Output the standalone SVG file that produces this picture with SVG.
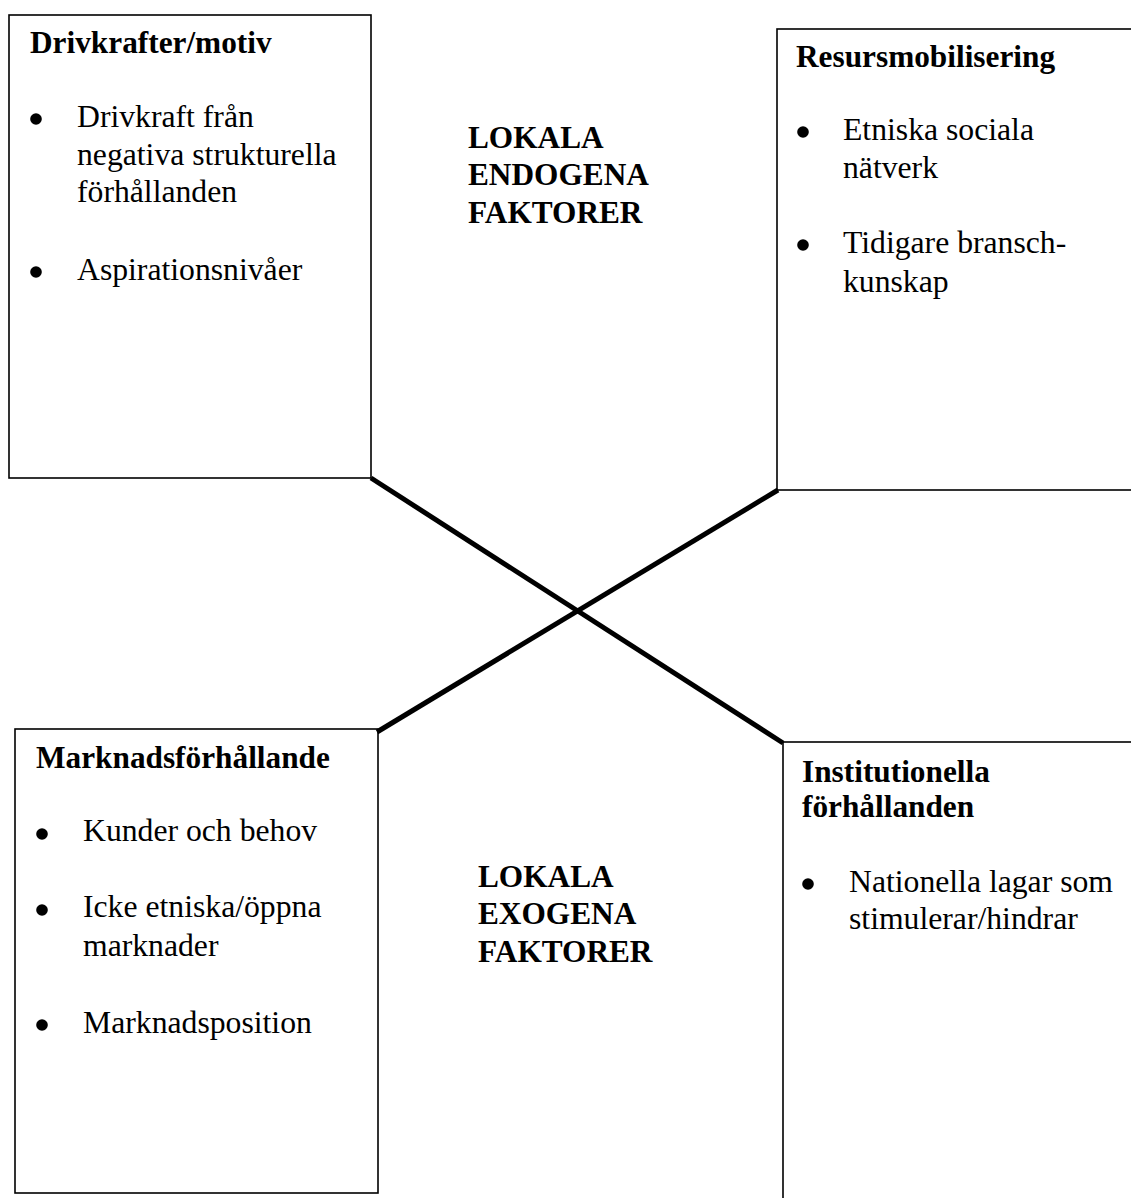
<svg xmlns="http://www.w3.org/2000/svg" width="1131" height="1198" viewBox="0 0 1131 1198">
<style>
.box{fill:#fff;stroke:#000;stroke-width:1.6}
.t{font-family:"Liberation Serif","Times New Roman",serif;font-size:31.7px;fill:#000}
.b{font-family:"Liberation Serif","Times New Roman",serif;font-size:31.3px;font-weight:bold;fill:#000}
.dot{fill:#000}
.conn{stroke:#000;stroke-width:5;fill:none;stroke-linecap:butt}
</style>
<rect width="1131" height="1198" fill="#fff"/>
<g id="drivkrafter">
<rect class="box" x="9" y="15" width="362" height="463"/>
<text class="b" x="30" y="53">Drivkrafter/motiv</text>
<circle class="dot" cx="36" cy="119" r="5.8"/>
<text class="t" x="77" y="127">Drivkraft från</text>
<text class="t" x="77" y="165">negativa strukturella</text>
<text class="t" x="77" y="202">förhållanden</text>
<circle class="dot" cx="36" cy="272" r="5.8"/>
<text class="t" x="77" y="280">Aspirationsnivåer</text>
</g>
<g id="resursmobilisering">
<rect class="box" x="777" y="29" width="400" height="461"/>
<text class="b" x="796" y="67">Resursmobilisering</text>
<circle class="dot" cx="803" cy="132" r="5.8"/>
<text class="t" x="843" y="140">Etniska sociala</text>
<text class="t" x="843" y="178">nätverk</text>
<circle class="dot" cx="803" cy="245" r="5.8"/>
<text class="t" x="843" y="253">Tidigare bransch-</text>
<text class="t" x="843" y="292">kunskap</text>
</g>
<g id="endogena">
<text class="b" x="468" y="148">LOKALA</text>
<text class="b" x="468" y="185">ENDOGENA</text>
<text class="b" x="468" y="223">FAKTORER</text>
</g>
<g id="marknad">
<rect class="box" x="15" y="729" width="363" height="464"/>
<text class="b" x="36" y="768">Marknadsförhållande</text>
<circle class="dot" cx="42" cy="834" r="5.8"/>
<text class="t" x="83" y="841">Kunder och behov</text>
<circle class="dot" cx="42" cy="910" r="5.8"/>
<text class="t" x="83" y="917">Icke etniska/öppna</text>
<text class="t" x="83" y="956">marknader</text>
<circle class="dot" cx="42" cy="1025" r="5.8"/>
<text class="t" x="83" y="1033">Marknadsposition</text>
</g>
<g id="exogena">
<text class="b" x="478" y="887">LOKALA</text>
<text class="b" x="478" y="924">EXOGENA</text>
<text class="b" x="478" y="962">FAKTORER</text>
</g>
<g id="institutionella">
<rect class="box" x="783" y="742" width="400" height="500"/>
<text class="b" x="802" y="782">Institutionella</text>
<text class="b" x="802" y="817">förhållanden</text>
<circle class="dot" cx="808" cy="884" r="5.8"/>
<text class="t" x="849" y="892">Nationella lagar som</text>
<text class="t" x="849" y="929">stimulerar/hindrar</text>
</g>
<g id="connectors">
<line class="conn" x1="371" y1="478" x2="783" y2="743"/>
<line class="conn" x1="377" y1="732" x2="778" y2="490"/>
</g>
</svg>
